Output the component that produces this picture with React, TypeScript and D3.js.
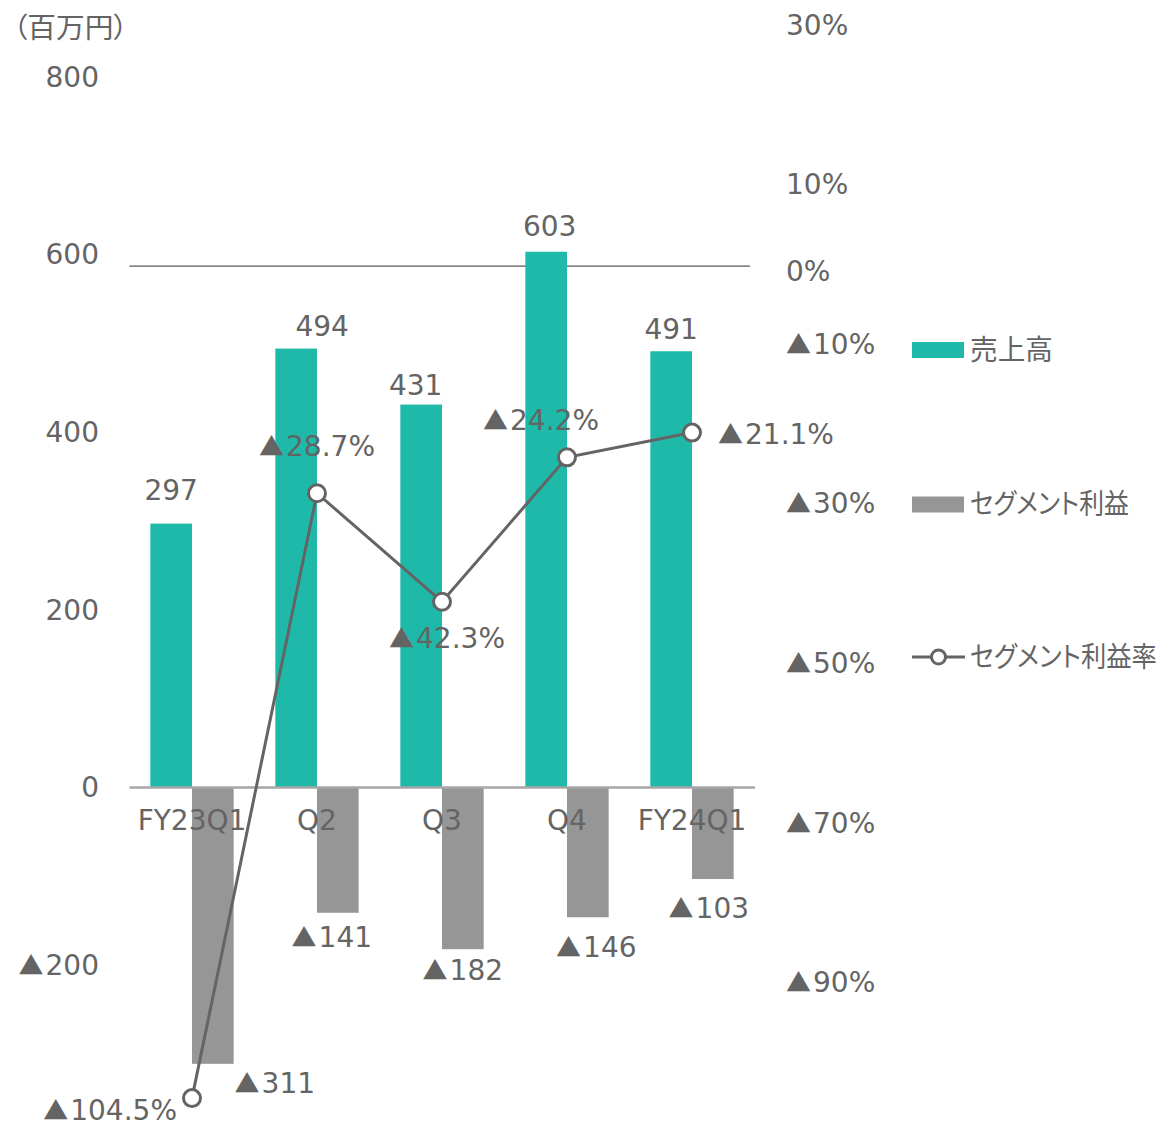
import React, { useLayoutEffect, useRef, useState } from 'react';
import * as d3 from 'd3';

const categories = ['FY23Q1', 'Q2', 'Q3', 'Q4', 'FY24Q1'];
const sales = [297, 494, 431, 603, 491];
const segmentProfit = [-311, -141, -182, -146, -103];
const profitMargin = [-104.5, -28.7, -42.3, -24.2, -21.1];
const leftTicks = [800, 600, 400, 200, 0, -200];
const rightTicks = [30, 10, -10, -30, -50, -70, -90];
const legendLabels = ['売上高', 'セグメント利益', 'セグメント利益率'];
const unitLabel = '（百万円）';

const W = 1161;
const H = 1127;
const TEAL = '#1FB9AA';
const GRAY = '#969696';
const DARK = '#646464';
const TEXT = '#646464';
const FONT = "'DejaVu Sans', 'Noto Sans CJK JP', sans-serif";
const CJK = "'Noto Sans CJK JP', sans-serif";
const FS = 28;

const tri = (v: number) => (v < 0 ? '▲' : '');

function Label({ x, y, value, suffix = '', anchor = 'middle', dy = 0 }: any) {
  const neg = Number(value) < 0;
  const body = String(value).replace('-', '') + suffix;
  return (
    <text x={x} y={y} dy={dy} textAnchor={anchor} fontFamily={FONT} fontSize={FS} fill={TEXT}>
      {neg && (
        <tspan fontFamily={CJK} fontSize={25}>
          {tri(Number(value))}
        </tspan>
      )}
      <tspan dx={neg ? 2 : 0}>{body}</tspan>
    </text>
  );
}

// Japanese text squeezed horizontally to the reference width (proportional kana)
function FitText({ x, y, width, children }: any) {
  const ref = useRef<SVGTextElement>(null);
  const [s, setS] = useState(1);
  useLayoutEffect(() => {
    if (ref.current) {
      const len = ref.current.getComputedTextLength();
      if (len > 0) setS(width / len);
    }
  }, [width, children]);
  return (
    <text
      ref={ref}
      transform={`translate(${x},${y}) scale(${s},1)`}
      dy="0.35em"
      fontFamily={CJK}
      fontSize={FS}
      fill={TEXT}
      style={{ fontFeatureSettings: "'palt'" }}
    >
      {children}
    </text>
  );
}

export default function App() {
  const x = d3.scaleBand<string>().domain(categories).range([129.5, 754.5]).padding(0);
  const bw = x.bandwidth() / 3;
  const cx = (c: string) => (x(c) as number) + x.bandwidth() / 2;
  const yL = d3.scaleLinear().domain([-400, 800]).range([1142.9, 76.7]);
  const yR = d3.scaleLinear().domain([-110, 30]).range([1142, 24.8]);

  const line = d3
    .line<number>()
    .x((_, i) => cx(categories[i]))
    .y((d) => yR(d));

  const salesOffsets = [
    [0, 24],
    [26, 13],
    [-5.5, 10],
    [3.5, 16],
    [0, 12],
  ];
  const grayOffsets = [
    [62, 29],
    [-6, 34],
    [0, 31],
    [8.5, 40],
    [-4, 39],
  ];
  const lineLabelPos: [string, number, number][] = [
    ['end', -15, 22],
    ['middle', 0, -37],
    ['middle', 5, 46],
    ['middle', -26, -27],
    ['start', 26, 11],
  ];

  const legendX = 912;
  const legendYs = [350, 504.5, 657];
  const legendWidths = [83, 159, 187];

  return (
    <svg
      width={W}
      height={H}
      style={{ position: 'absolute', left: 0, top: 0, background: '#fff' }}
    >
      <rect x={0} y={0} width={W} height={H} fill="#fff" />
      {/* unit label */}
      <FitText x={13} y={28} width={115}>
        {unitLabel}
      </FitText>

      {/* left axis tick labels */}
      {leftTicks.map((t) => (
        <Label key={'l' + t} x={99} y={yL(t)} dy="0.35em" value={t} anchor="end" />
      ))}

      {/* right axis tick labels */}
      {rightTicks.map((t) => (
        <Label key={'r' + t} x={786} y={yR(t)} dy="0.35em" value={t} suffix="%" anchor="start" />
      ))}
      <Label x={786} y={yR(0) + 7} dy="0.35em" value={0} suffix="%" anchor="start" />

      {/* 0% reference line */}
      <line
        x1={129.5}
        x2={750}
        y1={yR(0) + 2}
        y2={yR(0) + 2}
        stroke="#595959"
        strokeWidth={1.3}
      />

      {/* bars */}
      {categories.map((c, i) => (
        <g key={c}>
          <rect
            x={cx(c) - bw}
            y={yL(sales[i])}
            width={bw}
            height={yL(0) - yL(sales[i])}
            fill={TEAL}
          />
          <rect
            x={cx(c)}
            y={yL(0)}
            width={bw}
            height={yL(segmentProfit[i]) - yL(0)}
            fill={GRAY}
          />
        </g>
      ))}

      {/* category axis line */}
      <line x1={129.5} x2={755} y1={yL(0)} y2={yL(0)} stroke="#A6A6A6" strokeWidth={2.6} />

      {/* category labels */}
      {categories.map((c) => (
        <text
          key={'c' + c}
          x={cx(c)}
          y={830}
          textAnchor="middle"
          fontFamily={FONT}
          fontSize={FS}
          fill={TEXT}
        >
          {c}
        </text>
      ))}

      {/* sales labels */}
      {categories.map((c, i) => (
        <Label
          key={'s' + c}
          x={cx(c) - bw / 2 + salesOffsets[i][0]}
          y={yL(sales[i]) - salesOffsets[i][1]}
          value={sales[i]}
        />
      ))}

      {/* segment profit labels */}
      {categories.map((c, i) => (
        <Label
          key={'p' + c}
          x={cx(c) + bw / 2 + grayOffsets[i][0]}
          y={yL(segmentProfit[i]) + grayOffsets[i][1]}
          value={segmentProfit[i]}
        />
      ))}

      {/* margin line */}
      <path d={line(profitMargin) as string} fill="none" stroke={DARK} strokeWidth={3} />
      {profitMargin.map((v, i) => (
        <circle
          key={'m' + i}
          cx={cx(categories[i])}
          cy={yR(v)}
          r={8.5}
          fill="#fff"
          stroke={DARK}
          strokeWidth={3}
        />
      ))}
      {profitMargin.map((v, i) => (
        <Label
          key={'ml' + i}
          x={cx(categories[i]) + lineLabelPos[i][1]}
          y={yR(v) + lineLabelPos[i][2]}
          value={v.toFixed(1)}
          suffix="%"
          anchor={lineLabelPos[i][0]}
        />
      ))}

      {/* legend */}
      <rect x={legendX} y={legendYs[0] - 8} width={52} height={16} fill={TEAL} />
      <rect x={legendX} y={legendYs[1] - 8} width={52} height={16} fill={GRAY} />
      <line
        x1={legendX}
        x2={legendX + 53}
        y1={legendYs[2]}
        y2={legendYs[2]}
        stroke={DARK}
        strokeWidth={3}
      />
      <circle cx={legendX + 26.5} cy={legendYs[2]} r={7} fill="#fff" stroke={DARK} strokeWidth={3} />
      {legendLabels.map((l, i) => (
        <FitText key={'lg' + i} x={970} y={legendYs[i]} width={legendWidths[i]}>
          {l}
        </FitText>
      ))}
    </svg>
  );
}
